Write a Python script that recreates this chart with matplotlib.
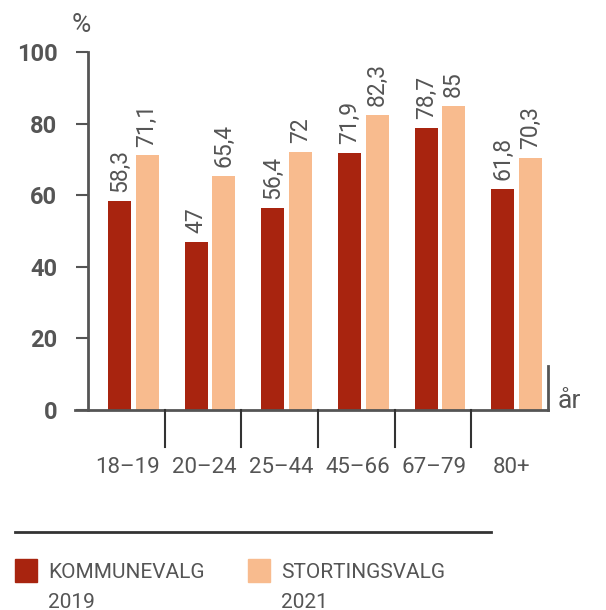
import matplotlib
matplotlib.use('Agg')
import matplotlib.pyplot as plt
from matplotlib.patches import Rectangle
from matplotlib.lines import Line2D
import numpy as np

categories = ['18–19', '20–24', '25–44', '45–66', '67–79', '80+']
kommunevalg_2019 = [58.3, 47, 56.4, 71.9, 78.7, 61.8]
stortingsvalg_2021 = [71.1, 65.4, 72, 82.3, 85, 70.3]
yticks = [0, 20, 40, 60, 80, 100]

dark = '#a8240f'
light = '#f8bb8e'
grey = '#555555'

plt.rcParams['font.family'] = ['Roboto', 'DejaVu Sans']

fig = plt.figure(figsize=(6.06, 6.10), dpi=100)
W, H = 606, 610
ax = fig.add_axes([88 / W, 200 / H, 460 / W, 358 / H])

x = np.arange(len(categories))
w = 0.30
ax.bar(x - 0.09, kommunevalg_2019, width=w, color=dark)
ax.bar(x + 0.27, stortingsvalg_2021, width=w, color=light)

def fmt(v):
    s = f"{v:.1f}".replace('.', ',')
    return s[:-2] if s.endswith(',0') else s

for xi, v in zip(x - 0.09, kommunevalg_2019):
    ax.text(xi, v + 2.5, fmt(v), rotation=90, ha='center', va='bottom',
            fontsize=16.5, color=grey)
for xi, v in zip(x + 0.27, stortingsvalg_2021):
    ax.text(xi, v + 2.5, fmt(v), rotation=90, ha='center', va='bottom',
            fontsize=16.5, color=grey)

ax.set_xlim(-0.5, 5.5)
ax.set_ylim(0, 100)
for s in ['top', 'right', 'bottom']:
    ax.spines[s].set_visible(False)
ax.spines['left'].set_color(grey)
ax.spines['left'].set_linewidth(2)

ax.set_yticks(yticks)
ax.set_yticklabels([str(t) for t in yticks], fontsize=17, fontweight='bold', color=grey)
ax.tick_params(axis='y', length=9, width=1.5, color=grey, pad=13)
ax.set_xticks([])

# x-axis base line, right end tick and category separators
ax.add_line(Line2D([-13 / 460, 1], [0, 0], transform=ax.transAxes,
                   color=grey, lw=2, clip_on=False))
ax.add_line(Line2D([1, 1], [0, 44 / 358], transform=ax.transAxes,
                   color=grey, lw=2, clip_on=False))
trans = ax.get_xaxis_transform()
for sep in x[:-1] + 0.5:
    ax.add_line(Line2D([sep, sep], [0, -37 / 358], transform=trans,
                       color='#333333', lw=1.5, clip_on=False))
for xi, lab in zip(x, categories):
    ax.text(xi + 0.02, -0.16, lab, transform=trans, ha='center', va='center',
            fontsize=16, color=grey)

fig.text(81 / W, 1 - 25 / H, '%', ha='center', va='center', fontsize=19, color=grey)
fig.text(569 / W, 1 - 401 / H, 'år', ha='center', va='center', fontsize=19, color=grey)

# legend
fig.add_artist(Line2D([15 / W, 491 / W], [1 - 532 / H, 1 - 532 / H],
                      transform=fig.transFigure, color='#333333', lw=2))
fig.add_artist(Rectangle((15 / W, 1 - 582 / H), 22 / W, 23 / H,
                         transform=fig.transFigure, color=dark))
fig.add_artist(Rectangle((248 / W, 1 - 582 / H), 22 / W, 23 / H,
                         transform=fig.transFigure, color=light))
fig.text(48 / W, 1 - 572 / H, 'KOMMUNEVALG', ha='left', va='center', fontsize=15, color=grey)
fig.text(48 / W, 1 - 602 / H, '2019', ha='left', va='center', fontsize=15, color=grey)
fig.text(281 / W, 1 - 572 / H, 'STORTINGSVALG', ha='left', va='center', fontsize=15, color=grey)
fig.text(281 / W, 1 - 602 / H, '2021', ha='left', va='center', fontsize=15, color=grey)

fig.savefig('out.png', dpi=100)
